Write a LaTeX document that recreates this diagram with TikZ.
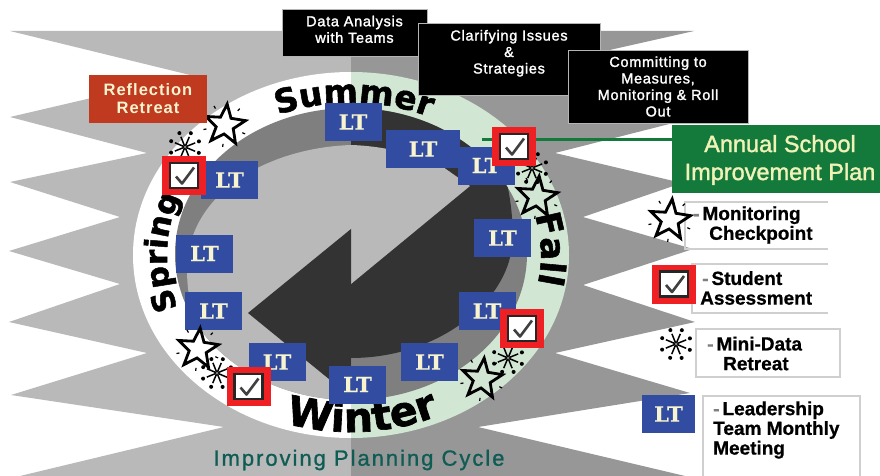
\documentclass[tikz,border=0pt]{standalone}
\usepackage{fontspec}
\usetikzlibrary{decorations.text}
\setmainfont[BoldFeatures={FakeBold=0.7}]{Liberation Sans}
\newfontfamily\ringface[BoldFeatures={FakeBold=1.6}]{DejaVu Sans}
\newfontfamily\boxface[LetterSpace=5,FakeBold=1.6]{Liberation Sans}
\newfontfamily\titleface[LetterSpace=9,FakeBold=1]{Liberation Sans}
\newfontfamily\planface[FakeBold=1.5]{Liberation Sans}
\newfontfamily\ltface[BoldFeatures={FakeBold=0.8}]{DejaVu Serif}
\newfontfamily\redface[LetterSpace=6]{Liberation Sans}
\newcommand{\ringS}{\ringface\bfseries\fontsize{33}{36}\selectfont}
\newcommand{\ringF}{\ringface\bfseries\fontsize{34}{36}\selectfont}
\newcommand{\ringW}{\ringface\bfseries\fontsize{41}{42}\selectfont}
\newcommand{\ringP}{\ringface\bfseries\fontsize{31}{34}\selectfont}
\newcommand{\dashmark}{{\color{dashc}-}\hspace{3pt}}
\definecolor{lightbg}{HTML}{B9B9B9}
\definecolor{darkbg}{HTML}{979797}
\definecolor{palegreen}{HTML}{D2E7D3}
\definecolor{bandc}{HTML}{7F7F7F}
\definecolor{darkc}{HTML}{333333}
\definecolor{ltblue}{HTML}{314CA0}
\definecolor{cream}{HTML}{F8F4CF}
\definecolor{redc}{HTML}{EE2024}
\definecolor{brick}{HTML}{C03A20}
\definecolor{greenc}{HTML}{137A3C}
\definecolor{legendline}{HTML}{CFCFCF}
\definecolor{dashc}{HTML}{7F7F7F}
\definecolor{tealc}{HTML}{0F5C55}
\definecolor{boxline}{HTML}{B5B5B5}
\tikzset{
  ltbox/.style={fill=ltblue,text=cream,font=\ltface\bfseries\fontsize{21}{22}\selectfont,minimum width=57pt,minimum height=38pt,inner sep=0pt},
  blackbox/.style={fill=black,draw=boxline,line width=0.8pt,text=white,font=\boxface\fontsize{14.5}{16.5}\selectfont,align=center,inner sep=0pt},
  legendtext/.style={font=\bfseries\fontsize{19}{19.7}\selectfont,align=left,inner sep=0pt,anchor=west,text=black},
  legendbox/.style={draw=legendline,line width=1.6pt},
  ringtext/.style={decorate},
  ckbox/.pic={
    \fill[redc] (-22,-19.5) rectangle (22,19.5);
    \fill[white] (-14,-12.5) rectangle (14,12.5);
    \draw[black!85,line width=2.8pt] (-14,-12.5) rectangle (14,12.5);
    \draw[black!75,line width=2.6pt,line join=round] (-8,-1) -- (-2,-8) -- (10,8);
  },
  starpic/.pic={
    \draw[black,line width=2.8pt,line join=miter]
      (90:21) -- (126:9) -- (162:21) -- (198:9) -- (234:21) -- (270:9)
      -- (306:21) -- (342:9) -- (18:21) -- (54:9) -- cycle;
    \foreach \a in {54,126,198,270,342}
      \draw[black,line width=1.2pt] (\a:19) -- (\a:22);
  },
  burstpic/.pic={
    \foreach \a in {0,45,...,315}{
      \draw[black,line width=1.5pt] (0,0) -- (\a+22:11);
      \fill[black] (\a+22:15) circle (2);
    }
    \fill[black!50] (0,0) circle (1.5);
  },
}
\begin{document}
\begin{tikzpicture}[x=1pt,y=1pt]
\useasboundingbox (0,0) rectangle (880,-476);
\fill[white] (0,0) rectangle (880,-476);

% saw-tooth backdrop, two tones
\def\sawpath{(10,-31) -- (694,-31) -- (583,-56) -- (693,-118) -- (555,-153) -- (682,-183)
  -- (583,-217) -- (693,-249) -- (583,-285) -- (695,-322) -- (555,-353) -- (690,-393)
  -- (478,-427) -- (685,-476) -- (20,-476) -- (224,-427) -- (11,-395) -- (147,-353)
  -- (9,-322) -- (120,-284) -- (9,-251) -- (120,-217) -- (10,-182) -- (147,-153)
  -- (10,-117) -- (190,-75) -- cycle}
\begin{scope}
  \clip (0,0) rectangle (351,-476);
  \fill[lightbg] \sawpath;
  \fill[white] (351,-255) ellipse [x radius=218,y radius=183];
\end{scope}
\begin{scope}
  \clip (351,0) rectangle (880,-476);
  \fill[darkbg] \sawpath;
  \fill[palegreen] (351,-255) ellipse [x radius=218,y radius=183];
\end{scope}

% inner disc
\fill[bandc] (351,-254) ellipse [x radius=176,y radius=146];
\begin{scope}
  \clip (351,-254) ellipse [x radius=176,y radius=146];
  % light area, left half
  \fill[lightbg] (351,-145) .. controls (265,-148) and (187,-195) .. (187,-270)
     .. controls (187,-300) and (195,-325) .. (207,-345) -- (200,-420) -- (351,-420) -- cycle;
  % dark area, right half
  \fill[darkc] (351,-100) -- (505,-100) -- (505,-175)
     .. controls (510,-195) and (514,-220) .. (512,-245)
     .. controls (508,-300) and (440,-358) .. (351,-358) -- cycle;
  % light area, right half
  \fill[lightbg] (351,-145) .. controls (385,-146) and (420,-155) .. (443,-167)
     -- (470,-186) -- (351,-284) -- cycle;
  % dark arrow, left half
  \fill[darkc] (351,-229) -- (248,-313) -- (351,-397) -- cycle;
\end{scope}

% season names
\path[ringtext,decoration={text along path,text align=center,text={|\ringS|Summer}}]
  (351,-255) ++(134:188 and 152) arc[start angle=134,end angle=44,x radius=188,y radius=152];
\path[ringtext,decoration={text along path,text align=center,text={|\ringF|Fall}}]
  (351,-255) ++(37:190 and 156) arc[start angle=37,end angle=-33,x radius=190,y radius=156];
\path[ringtext,decoration={text along path,text align=center,text={|\ringW|Winter}}]
  (351,-255) ++(235:208 and 177) arc[start angle=235,end angle=312,x radius=208,y radius=177];
\path[ringtext,decoration={text along path,text align=center,text={|\ringP|Spring}}]
  (351,-255) ++(219:184 and 156) arc[start angle=219,end angle=139,x radius=184,y radius=156];

% green connector
\coordinate (linestart) at (482,-139);
\node[fill=greenc,text={rgb,255:red,242;green,242;blue,184},minimum width=208pt,minimum height=68pt,inner sep=0pt,
      font=\planface\fontsize{23.5}{28}\selectfont,align=center] (plan) at (776,-159) {\rule{0pt}{19pt}\hspace*{8pt}Annual School\\\hspace*{8pt}Improvement Plan};
\draw[greenc,line width=3pt] (linestart) -- (linestart -| plan.west);

% leadership team meetings
\node[ltbox] (lt1) at (353,-122) {LT};
\node[ltbox,minimum width=74pt] (lt2) at (423,-149) {LT};
\node[ltbox] (lt3) at (486,-165.5) {LT};
\node[ltbox] (lt4) at (502.5,-238) {LT};
\node[ltbox] (lt5) at (487,-311) {LT};
\node[ltbox] (lt6) at (429.5,-362) {LT};
\node[ltbox] (lt7) at (357.5,-384.5) {LT};
\node[ltbox] (lt8) at (277,-362) {LT};
\node[ltbox] (lt9) at (213.5,-311) {LT};
\node[ltbox] (lt10) at (204.5,-253.5) {LT};
\node[ltbox] (lt11) at (229.5,-180) {LT};

% stars, bursts, check boxes on the ring
\pic[rotate=-6] at (225,-125) {starpic};
\pic[rotate=-6] at (537,-197) {starpic};
\pic[rotate=-6] at (198,-349) {starpic};
\pic[rotate=-6] at (482,-379) {starpic};
\pic at (185,-147) {burstpic};
\pic at (532,-168) {burstpic};
\pic at (217,-373) {burstpic};
\pic at (508,-358) {burstpic};
\pic at (184,-175.5) {ckbox};
\pic at (514,-146.5) {ckbox};
\pic at (522,-328.5) {ckbox};
\pic at (248.5,-386.5) {ckbox};

% black captions
\node[blackbox,minimum width=145pt,minimum height=47pt] (data) at (354.5,-32.5) {Data Analysis\\with Teams\\[-10pt]\mbox{}};
\node[blackbox,minimum width=182pt,minimum height=72pt] (clarify) at (509,-59) {Clarifying Issues\\\&\\Strategies\\[-2pt]\mbox{}};
\node[blackbox,minimum width=180pt,minimum height=73pt] (commit) at (658,-86.5) {Committing to\\Measures,\\Monitoring \& Roll\\Out};

% reflection retreat
\node[fill=brick,text=cream,minimum width=118pt,minimum height=48pt,inner sep=0pt,align=center,
      font=\redface\bfseries\fontsize{16.5}{18}\selectfont] (retreat) at (148,-99) {Reflection\\Retreat};

% legend
\draw[legendbox] (828,-202) -- (685,-202) -- (685,-249) -- (828,-249);
\draw[legendbox] (828,-264) -- (692,-264) -- (692,-313) -- (828,-313);
\draw[legendbox] (696,-329) rectangle (840,-377);
\draw[legendbox] (703,-476) -- (703,-396) -- (860,-396) -- (860,-476);
\pic[rotate=-6] at (670,-220) {starpic};
\node[legendtext] (mon) at (693,-225) {\dashmark Monitoring\\\hspace{16pt}Checkpoint};
\pic at (674,-284) {ckbox};
\node[legendtext] (stu) at (700,-288) {\hspace{2pt}\dashmark Student\\Assessment};
\pic at (676,-344) {burstpic};
\node[legendtext] (mini) at (707,-353.5) {\dashmark Mini-Data\\\hspace{16pt}Retreat};
\node[ltbox,minimum width=53pt] (ltkey) at (668.5,-414) {LT};
\node[legendtext] (lead) at (713,-430) {\dashmark Leadership\\Team Monthly\\Meeting};

% title
\node[inner sep=0pt,text=tealc,font=\titleface\fontsize{22}{24}\selectfont] (title) at (359,-460) {Improving Planning Cycle};
\end{tikzpicture}
\end{document}
